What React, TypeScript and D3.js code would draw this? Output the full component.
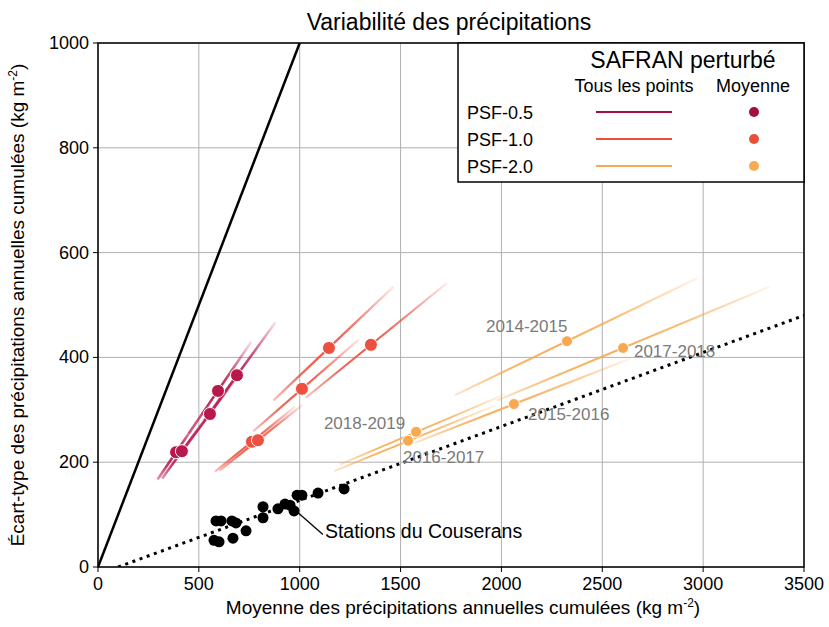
import React, { useEffect } from "react";
import { scaleLinear, line } from "d3";

// axis ticks
const xTicks = [0, 500, 1000, 1500, 2000, 2500, 3000, 3500];
const yTicks = [0, 200, 400, 600, 800, 1000];

const seasons = ["2014-2015", "2015-2016", "2016-2017", "2017-2018", "2018-2019"];
const psfNames = ["PSF-0.5", "PSF-1.0", "PSF-2.0"];
const psfColors = ["#b8184b", "#ec5040", "#f8a94f"];
const psfLegendColors = ["#a30f3e", "#e8503a", "#f9a94f"];

// mean point [mean, std] per season, one array per PSF
const meanPsf05 = [[595, 336], [555, 292], [387, 219], [689, 366], [416, 221]];
const meanPsf10 = [[1145, 418], [1011, 340], [763, 239], [1353, 424], [793, 242]];
const meanPsf20 = [[2325, 431], [2062, 311], [1537, 241], [2603, 418], [1577, 258]];

// "tous les points" segments [x0, y0, x1, y1] per season
const segPsf05 = [
  [450, 255, 760, 430],
  [420, 222, 710, 374],
  [295, 167, 495, 280],
  [525, 279, 880, 467],
  [318, 169, 532, 283],
];
const segPsf10 = [
  [870, 318, 1465, 535],
  [770, 259, 1295, 435],
  [580, 182, 977, 306],
  [1030, 323, 1730, 542],
  [603, 184, 1015, 310],
];
const segPsf20 = [
  [1770, 328, 2975, 552],
  [1570, 237, 2640, 398],
  [1170, 183, 1967, 308],
  [1980, 318, 3330, 535],
  [1200, 196, 2020, 330],
];

// Stations du Couserans [mean, std]
const stations = [
  [585, 88], [610, 88], [664, 88], [684, 84], [575, 51], [600, 48],
  [669, 55], [734, 69], [818, 115], [818, 94], [892, 111], [927, 120],
  [952, 118], [972, 107], [987, 137], [1011, 137], [1091, 141], [1220, 149],
];

// reference lines
const identityLine = [[0, 0], [1000, 1000]];
const fitLine = [[100, 0], [3500, 480]];

// season labels (text start, baseline, in data units)
const seasonLabels = [
  { text: "2014-2015", x: 1924, y: 448 },
  { text: "2015-2016", x: 2132, y: 281 },
  { text: "2016-2017", x: 1512, y: 198 },
  { text: "2017-2018", x: 2657, y: 401 },
  { text: "2018-2019", x: 1120, y: 263 },
];

const W = 829;
const H = 627;
const margin = { left: 98, right: 25, top: 43, bottom: 60 };
const font = "Liberation Sans, Arial, sans-serif";
const fs = 18;

export default function App() {
  useEffect(() => {
    document.body.style.margin = "0";
  }, []);

  const x = scaleLinear().domain([0, 3500]).range([margin.left, W - margin.right]);
  const y = scaleLinear().domain([0, 1000]).range([H - margin.bottom, margin.top]);
  const ln = line<number[]>().x((d) => x(d[0])).y((d) => y(d[1]));

  const means = [meanPsf05, meanPsf10, meanPsf20];
  const segs = [segPsf05, segPsf10, segPsf20];
  const segWidth = [2.6, 2.2, 2];
  const segEnds = [0.45, 0.35, 0.3];

  const x0 = margin.left;
  const x1 = W - margin.right;
  const yb = y(0);
  const yt = y(1000);

  return (
    <svg width={W} height={H} style={{ display: "block", fontFamily: font }}>
      <defs>
        <clipPath id="plot">
          <rect x={x0} y={yt} width={x1 - x0} height={yb - yt} />
        </clipPath>
        {segs.map((ss, p) =>
          ss.map((s, i) => {
            const m = means[p][i];
            const off = (m[0] - s[0]) / (s[2] - s[0]);
            return (
              <linearGradient
                key={`g${p}-${i}`}
                id={`g${p}-${i}`}
                gradientUnits="userSpaceOnUse"
                x1={x(s[0])}
                y1={y(s[1])}
                x2={x(s[2])}
                y2={y(s[3])}
              >
                <stop offset={0} stopColor={psfColors[p]} stopOpacity={segEnds[p]} />
                <stop offset={off * 0.5} stopColor={psfColors[p]} stopOpacity={0.85} />
                <stop offset={off} stopColor={psfColors[p]} stopOpacity={0.95} />
                <stop offset={off + (1 - off) * 0.4} stopColor={psfColors[p]} stopOpacity={0.75} />
                <stop offset={1} stopColor={psfColors[p]} stopOpacity={0.12} />
              </linearGradient>
            );
          })
        )}
      </defs>

      <rect x={0} y={0} width={W} height={H} fill="#fff" />

      {/* grid */}
      {xTicks.map((t) => (
        <line key={`gx${t}`} x1={x(t)} x2={x(t)} y1={yt} y2={yb} stroke="#b0b0b0" strokeWidth={1} />
      ))}
      {yTicks.map((t) => (
        <line key={`gy${t}`} x1={x0} x2={x1} y1={y(t)} y2={y(t)} stroke="#b0b0b0" strokeWidth={1} />
      ))}

      <g clipPath="url(#plot)">
        {/* reference lines */}
        <path d={ln(identityLine) || ""} stroke="#000" strokeWidth={2.5} fill="none" />
        <path d={ln(fitLine) || ""} stroke="#000" strokeWidth={3} strokeDasharray="3,4.6" fill="none" />

        {/* all points segments */}
        {segs.map((ss, p) =>
          ss.map((s, i) => (
            <line
              key={`s${p}-${i}`}
              x1={x(s[0])}
              y1={y(s[1])}
              x2={x(s[2])}
              y2={y(s[3])}
              stroke={`url(#g${p}-${i})`}
              strokeWidth={segWidth[p]}
            />
          ))
        )}

        {/* stations */}
        {stations.map((d, i) => (
          <circle key={`st${i}`} cx={x(d[0])} cy={y(d[1])} r={5.5} fill="#000" />
        ))}

        {/* means */}
        {means.map((mm, p) =>
          mm.map((d, i) => (
            <circle
              key={`m${p}-${i}`}
              cx={x(d[0])}
              cy={y(d[1])}
              r={p === 2 ? 5.5 : 6.5}
              fill={psfColors[p]}
              stroke="#fff"
              strokeWidth={1}
            />
          ))
        )}
      </g>

      {/* season labels */}
      {seasonLabels.map((l) => (
        <text key={l.text} x={x(l.x)} y={y(l.y)} fontSize={17} fill="#7a7a7a">
          {l.text}
        </text>
      ))}

      {/* station annotation */}
      <line x1={x(985)} y1={y(106)} x2={x(1115)} y2={y(62)} stroke="#000" strokeWidth={1.3} />
      <text x={x(1125)} y={538} fontSize={19.5}>
        Stations du Couserans
      </text>

      {/* frame */}
      <rect x={x0} y={yt} width={x1 - x0} height={yb - yt} fill="none" stroke="#000" strokeWidth={1.5} />

      {/* x axis */}
      {xTicks.map((t) => (
        <g key={`tx${t}`}>
          <line x1={x(t)} x2={x(t)} y1={yb} y2={yb + 5} stroke="#000" />
          <text x={x(t)} y={yb + 23} fontSize={fs} textAnchor="middle">
            {t}
          </text>
        </g>
      ))}
      {/* y axis */}
      {yTicks.map((t) => (
        <g key={`ty${t}`}>
          <line x1={x0 - 5} x2={x0} y1={y(t)} y2={y(t)} stroke="#000" />
          <text x={x0 - 9} y={y(t) + 6} fontSize={fs} textAnchor="end">
            {t}
          </text>
        </g>
      ))}

      {/* axis titles */}
      <text x={(x0 + x1) / 2 + 12} y={614} fontSize={19} textAnchor="middle">
        Moyenne des précipitations annuelles cumulées (kg m
        <tspan dy={-7} fontSize={12}>-2</tspan>
        <tspan dy={7}>)</tspan>
      </text>
      <text transform={`translate(24,${(yt + yb) / 2}) rotate(-90)`} fontSize={19} textAnchor="middle">
        Écart-type des précipitations annuelles cumulées (kg m
        <tspan dy={-7} fontSize={12}>-2</tspan>
        <tspan dy={7}>)</tspan>
      </text>
      <text x={449} y={30} fontSize={23} textAnchor="middle">
        Variabilité des précipitations
      </text>

      {/* legend */}
      <g>
        <rect x={458} y={yt} width={x1 - 458} height={139} fill="#fff" stroke="#000" strokeWidth={1.5} />
        <text x={683} y={68} fontSize={23} textAnchor="middle">
          SAFRAN perturbé
        </text>
        <text x={634} y={92} fontSize={fs} textAnchor="middle">
          Tous les points
        </text>
        <text x={753} y={92} fontSize={fs} textAnchor="middle">
          Moyenne
        </text>
        {psfNames.map((n, p) => {
          const ry = 112 + p * 27;
          return (
            <g key={n}>
              <text x={467} y={ry + 7} fontSize={fs}>
                {n}
              </text>
              <line x1={596} x2={672} y1={ry} y2={ry} stroke={psfLegendColors[p]} strokeWidth={2} />
              <circle cx={754} cy={ry} r={5} fill={psfLegendColors[p]} />
            </g>
          );
        })}
      </g>
    </svg>
  );
}
